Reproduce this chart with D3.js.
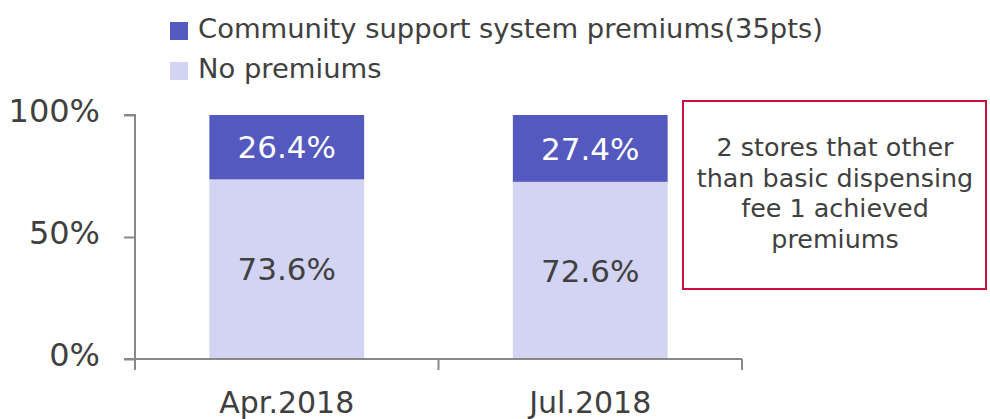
<!DOCTYPE html>
<html>
<head>
<meta charset="utf-8">
<script src="https://cdn.jsdelivr.net/npm/d3@7"></script>
<style>
  body { margin: 0; background: #fff; }
  svg text { font-family: "DejaVu Sans", Verdana, sans-serif; fill: #404040; }
</style>
</head>
<body>
<div id="chart"></div>
<script>
// data
const categories = ["Apr.2018", "Jul.2018"];
const premiums = [26.4, 27.4];      // Community support system premiums(35pts)
const noPremiums = [73.6, 72.6];    // No premiums
const seriesNames = ["Community support system premiums(35pts)", "No premiums"];
const yTicks = [0, 50, 100];
const noteLines = ["2 stores that other", "than basic dispensing", "fee 1 achieved", "premiums"];

const colors = { premium: "#5359bf", none: "#d3d3f3" };

var width = 990, height = 419;

const svg = d3.select("#chart").append("svg")
    .attr("width", width)
    .attr("height", height);

// scales
const x = d3.scaleBand()
    .domain(categories)
    .range([135, 742])
    .paddingInner(0.49)
    .paddingOuter(0.245);

const y = d3.scaleLinear()
    .domain([0, 100])
    .range([359, 115]);

// bars - stacked
const rows = categories.map((c, i) => ({ cat: c, none: noPremiums[i], prem: premiums[i] }));
const stack = d3.stack().keys(["none", "prem"])(rows);

svg.selectAll("g.layer")
    .data(stack)
    .enter()
    .append("g")
    .attr("class", "layer")
    .attr("fill", d => d.key === "prem" ? colors.premium : colors.none)
    .selectAll("rect")
    .data(d => d)
    .enter()
    .append("rect")
    .attr("x", d => x(d.data.cat))
    .attr("width", x.bandwidth())
    .attr("y", d => y(d[1]))
    .attr("height", d => y(d[0]) - y(d[1]));

// value labels
stack.forEach(layer => {
    svg.selectAll(null)
        .data(layer)
        .enter()
        .append("text")
        .attr("x", d => x(d.data.cat) + x.bandwidth() / 2)
        .attr("y", d => (y(d[0]) + y(d[1])) / 2)
        .attr("dy", "0.36em")
        .attr("text-anchor", "middle")
        .style("font-size", "31px")
        .style("fill", layer.key === "prem" ? "#ffffff" : "#404040")
        .text(d => (d[1] - d[0]).toFixed(1) + "%");
});

// y axis
const yAxis = svg.append("g")
    .attr("transform", "translate(135,0)")
    .call(d3.axisLeft(y).tickValues(yTicks).tickFormat(d => d + "%").tickSize(11).tickPadding(24));
yAxis.select(".domain").attr("d", "M-11,115H0V370");
yAxis.selectAll("line, .domain").attr("stroke", "#888").attr("stroke-width", 2);
yAxis.selectAll("text").style("font-size", "32px").style("fill", "#404040")
    .attr("dy", "0.2em")
    .style("font-family", "DejaVu Sans, Verdana, sans-serif");

// x axis
const xAxis = svg.append("g")
    .attr("transform", "translate(0,359)");
xAxis.append("line")
    .attr("x1", 124).attr("x2", 742)
    .attr("stroke", "#888").attr("stroke-width", 2);
const bounds = [x.range()[0], (x(categories[0]) + x.bandwidth() + x(categories[1])) / 2, x.range()[1]];
xAxis.selectAll("line.tk")
    .data(bounds)
    .enter()
    .append("line")
    .attr("class", "tk")
    .attr("x1", d => d).attr("x2", d => d)
    .attr("y1", 0).attr("y2", 11)
    .attr("stroke", "#888").attr("stroke-width", 2);
xAxis.selectAll("text")
    .data(categories)
    .enter()
    .append("text")
    .attr("x", d => x(d) + x.bandwidth() / 2)
    .attr("y", 54)
    .attr("text-anchor", "middle")
    .style("font-size", "30px")
    .text(d => d);

// legend
const legend = svg.append("g");
const legendColors = [colors.premium, colors.none];
seriesNames.forEach((name, i) => {
    legend.append("rect")
        .attr("x", 170).attr("y", 22 + i * 40)
        .attr("width", 18).attr("height", 18)
        .attr("fill", legendColors[i]);
    legend.append("text")
        .attr("x", 198).attr("y", 38 + i * 40)
        .style("font-size", "27.4px")
        .text(name);
});

// note box
svg.append("rect")
    .attr("x", 683).attr("y", 101)
    .attr("width", 303).attr("height", 188)
    .attr("fill", "none")
    .attr("stroke", "#c8103e")
    .attr("stroke-width", 2);
svg.append("g").selectAll("text")
    .data(noteLines)
    .enter()
    .append("text")
    .attr("x", 835)
    .attr("y", (d, i) => 156 + i * 30.5)
    .attr("text-anchor", "middle")
    .style("font-size", "25.4px")
    .text(d => d);
</script>
</body>
</html>
